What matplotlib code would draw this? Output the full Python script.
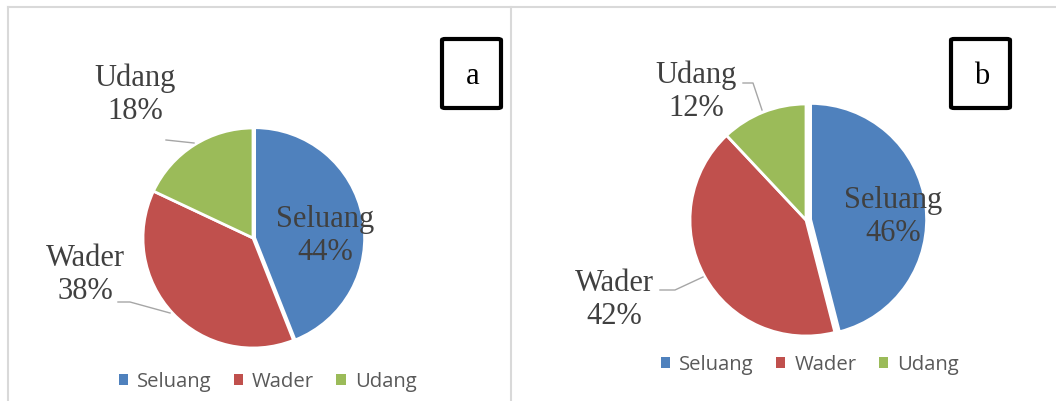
import matplotlib
matplotlib.use("Agg")
import matplotlib.pyplot as plt
from matplotlib.patches import FancyBboxPatch, Patch
from matplotlib.lines import Line2D

# ---------------- data ----------------
categories = ["Seluang", "Wader", "Udang"]
values_a = [44, 38, 18]
values_b = [46, 42, 12]
panel_letters = ["a", "b"]
colors = ["#4F81BD", "#C0504D", "#9BBB59"]

# ---------------- layout (pixels) ----------------
W, H = 1056, 401
DPI = 100

def fx(px):
    return px / W

def fy(py):
    return 1 - py / H

fig = plt.figure(figsize=(W / DPI, H / DPI), dpi=DPI)
fig.patch.set_facecolor("white")

# panel borders
border_col = "#D9D9D9"
for xs, ys in [([8, 8], [7, 401]), ([511, 511], [7, 401]), ([8, 1056], [7, 7])]:
    fig.add_artist(Line2D([fx(x) for x in xs], [fy(y) for y in ys],
                          color=border_col, lw=1.5, transform=fig.transFigure))

TEXT_COL = "#404040"
LEAD_COL = "#A6A6A6"
SERIF = "Liberation Serif"

panels = [
    dict(values=values_a, cx=253, cy=238, r=110, explode=0.015,
         label_pos=[(325, 236), (85, 275), (135, 95)],
         leaders={1: [(118, 302), (130, 302), (170, 313)],
                  2: [(166, 140), (194, 143)]},
         box=(442, 39, 501, 108), legend_xy=(267.5, 382)),
    dict(values=values_b, cx=806, cy=220, r=116, explode=0.04,
         label_pos=[(893, 217), (614, 300), (696, 92)],
         leaders={1: [(660, 290), (675, 290), (703, 277)],
                  2: [(743, 83), (753, 83), (762, 110)]},
         box=(951, 39, 1010, 108), legend_xy=(810, 365)),
]

for p, letter in zip(panels, panel_letters):
    cx, cy, r = p["cx"], p["cy"], p["r"]
    s = 1.25
    ax = fig.add_axes([fx(cx - s * r), fy(cy + s * r), 2 * s * r / W, 2 * s * r / H])
    vals = p["values"]
    ax.pie(vals, colors=colors, startangle=90, counterclock=False,
           explode=[p["explode"], 0, 0],
           wedgeprops=dict(edgecolor="white", linewidth=2.0))
    ax.set_xlim(-s, s)
    ax.set_ylim(-s, s)
    ax.set_aspect("equal")
    ax.axis("off")

    def d(pt):
        return ((pt[0] - cx) / r, -(pt[1] - cy) / r)

    for i, (cat, v) in enumerate(zip(categories, vals)):
        x, y = d(p["label_pos"][i])
        ax.text(x, y, f"{cat}\n{v}%", ha="center", va="center",
                multialignment="center", fontsize=22, family=SERIF,
                color=TEXT_COL, linespacing=1.2)
    for i, pts in p["leaders"].items():
        dp = [d(q) for q in pts]
        ax.plot([q[0] for q in dp], [q[1] for q in dp], color=LEAD_COL,
                lw=1.0, clip_on=False)

    # panel letter box
    x0, y0, x1, y1 = p["box"]
    fig.add_artist(FancyBboxPatch((fx(x0), fy(y1)), fx(x1) - fx(x0), fy(y0) - fy(y1),
                                  boxstyle="round,pad=0,rounding_size=0.003",
                                  transform=fig.transFigure, facecolor="white",
                                  edgecolor="black", linewidth=3.0))
    fig.text(fx((x0 + x1) / 2 + 1), fy((y0 + y1) / 2 + 3), letter, ha="center",
             va="center", fontsize=22, family=SERIF, color="black")

    # legend
    handles = [Patch(facecolor=c, edgecolor="none") for c in colors]
    lx, ly = p["legend_xy"]
    fig.legend(handles, categories, loc="center", ncol=3,
               bbox_to_anchor=(fx(lx), fy(ly)), frameon=False,
               prop=dict(family="Open Sans", size=14.6),
               labelcolor="#595959", handlelength=0.45, handleheight=0.45,
               handletextpad=0.45, columnspacing=1.1, borderpad=0,
               borderaxespad=0)

fig.savefig("out.png", dpi=DPI, facecolor="white")
